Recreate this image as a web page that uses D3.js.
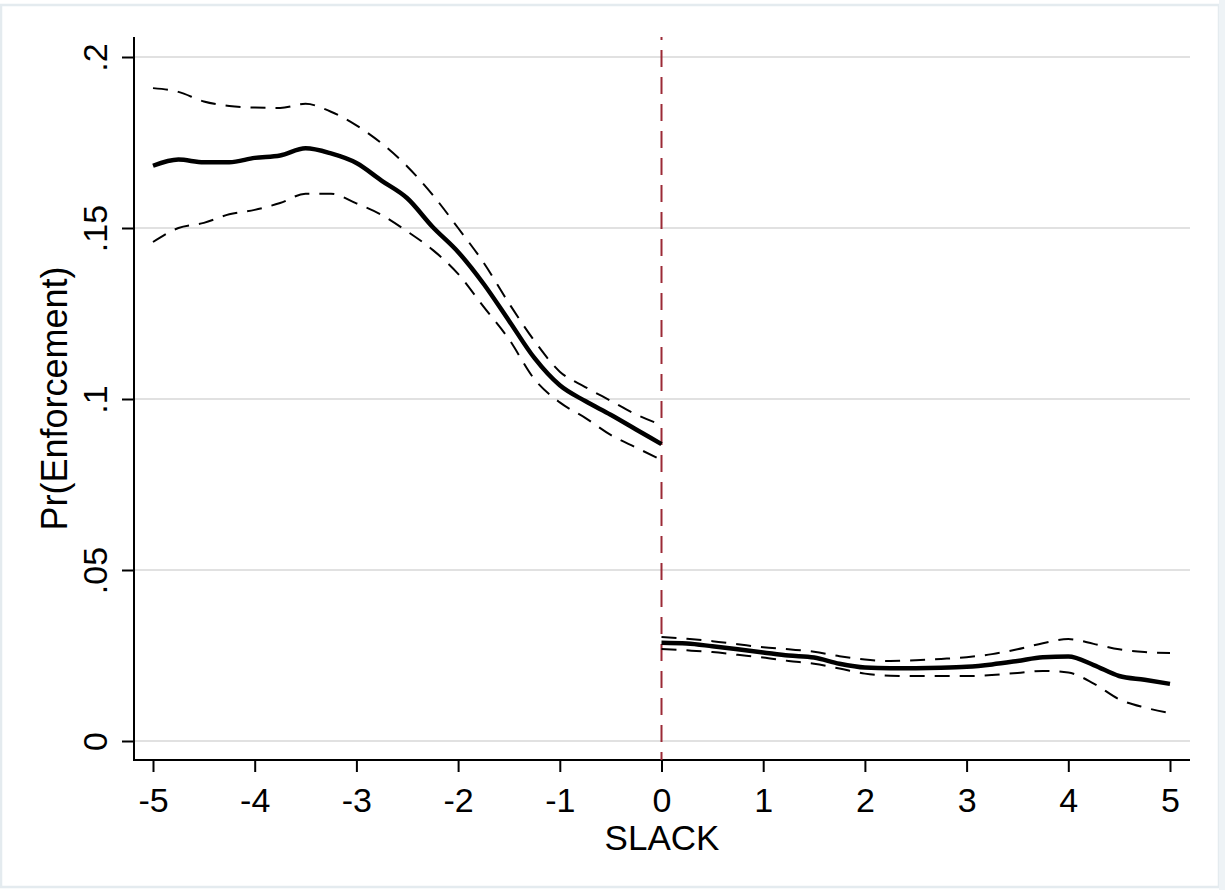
<!DOCTYPE html>
<html>
<head>
<meta charset="utf-8">
<script src="https://cdn.jsdelivr.net/npm/d3@7"></script>
<style>
  html, body { margin: 0; padding: 0; background: #fff; }
  svg { display: block; }
  text { font-family: "Liberation Sans", Arial, sans-serif; fill: #000; }
</style>
</head>
<body>
<svg id="chart" width="1225" height="890"></svg>
<script>
// Local-polynomial fit of Pr(Enforcement) on each side of the SLACK cutoff
const leftX = [-5, -4.75, -4.5, -4.25, -4, -3.75, -3.5, -3.25, -3, -2.75, -2.5,
               -2.25, -2, -1.75, -1.5, -1.25, -1, -0.75, -0.5, -0.25, 0];
const leftFit = [0.1682, 0.1700, 0.1692, 0.1692, 0.1705, 0.1712, 0.1733, 0.1718, 0.1690, 0.1638, 0.1587,
                 0.1503, 0.1430, 0.1337, 0.1229, 0.1120, 0.1040, 0.0994, 0.0954, 0.0911, 0.0868];
const leftUpper = [0.1909, 0.1898, 0.1870, 0.1857, 0.1852, 0.1851, 0.1863, 0.1840, 0.1800, 0.1747, 0.1680,
                   0.1597, 0.1500, 0.1399, 0.1280, 0.1170, 0.1080, 0.1035, 0.0995, 0.0955, 0.0924];
const leftLower = [0.1459, 0.1500, 0.1515, 0.1540, 0.1553, 0.1573, 0.1600, 0.1600, 0.1572, 0.1538, 0.1490,
                   0.1436, 0.1366, 0.1270, 0.1175, 0.1058, 0.0990, 0.0945, 0.0895, 0.0858, 0.0822];

const rightX = [0, 0.25, 0.5, 0.75, 1, 1.25, 1.5, 1.75, 2, 2.25, 2.5,
                2.75, 3, 3.25, 3.5, 3.75, 4, 4.25, 4.5, 4.75, 5];
const rightFit = [0.0287, 0.0285, 0.0277, 0.0268, 0.0259, 0.0250, 0.0244, 0.0226, 0.0215, 0.0213, 0.0213,
                  0.0214, 0.0217, 0.0224, 0.0234, 0.0245, 0.0247, 0.0222, 0.0190, 0.0179, 0.0167];
const rightUpper = [0.0304, 0.0299, 0.0292, 0.0283, 0.0274, 0.0268, 0.0261, 0.0248, 0.0238, 0.0234, 0.0236,
                    0.0240, 0.0245, 0.0254, 0.0268, 0.0286, 0.0298, 0.0284, 0.0268, 0.0260, 0.0257];
const rightLower = [0.0269, 0.0265, 0.0260, 0.0252, 0.0244, 0.0234, 0.0226, 0.0212, 0.0197, 0.0191, 0.0190,
                    0.0190, 0.0190, 0.0193, 0.0199, 0.0205, 0.0200, 0.0168, 0.0122, 0.0098, 0.0082];

const xTicks = [-5, -4, -3, -2, -1, 0, 1, 2, 3, 4, 5];
const xTickLabels = ["-5", "-4", "-3", "-2", "-1", "0", "1", "2", "3", "4", "5"];
const yTicks = [0, 0.05, 0.1, 0.15, 0.2];
const yTickLabels = ["0", ".05", ".1", ".15", ".2"];
const cutoff = 0;
const xTitle = "SLACK";
const yTitle = "Pr(Enforcement)";

const svg = d3.select("#chart");
const W = 1225, H = 890;
const frame = { left: 134, right: 1190, top: 37, bottom: 760 };

const x = d3.scaleLinear().domain([-5, 5]).range([153, 1170]);
const y = d3.scaleLinear().domain([0, 0.2]).range([741, 57]);

// light outer border of the graph region
svg.append("rect")
  .attr("x", 1).attr("y", 5).attr("width", 1218).attr("height", 882)
  .attr("fill", "#fff").attr("stroke", "#e4ebef").attr("stroke-width", 2.5);
svg.append("rect")
  .attr("x", 1219).attr("y", 0).attr("width", 6).attr("height", H)
  .attr("fill", "#eef3f6");

// horizontal gridlines
svg.append("g").selectAll("line").data(yTicks).join("line")
  .attr("x1", frame.left).attr("x2", frame.right)
  .attr("y1", d => y(d)).attr("y2", d => y(d))
  .attr("stroke", "#e1e1e1").attr("stroke-width", 2);

// x axis
const xAxis = d3.axisBottom(x).tickValues(xTicks).tickSize(12)
  .tickFormat((d, i) => xTickLabels[i]);
const gx = svg.append("g").attr("transform", `translate(0,${frame.bottom})`).call(xAxis);
gx.select(".domain").remove();
gx.selectAll(".tick line").attr("stroke", "#000").attr("stroke-width", 2);
gx.selectAll(".tick text")
  .attr("font-size", 34).attr("font-family", "Liberation Sans, Arial, sans-serif")
  .attr("fill", "#000").attr("dy", null).attr("y", 52);
svg.append("line")
  .attr("x1", frame.left - 1).attr("x2", frame.right)
  .attr("y1", frame.bottom).attr("y2", frame.bottom)
  .attr("stroke", "#000").attr("stroke-width", 2);

// y axis
const yAxis = d3.axisLeft(y).tickValues(yTicks).tickSize(12)
  .tickFormat((d, i) => yTickLabels[i]);
const gy = svg.append("g").attr("transform", `translate(${frame.left},0)`).call(yAxis);
gy.select(".domain").remove();
gy.selectAll(".tick line").attr("stroke", "#000").attr("stroke-width", 2);
gy.selectAll(".tick text")
  .attr("font-size", 34).attr("font-family", "Liberation Sans, Arial, sans-serif")
  .attr("fill", "#000")
  .attr("x", null).attr("dy", null)
  .attr("text-anchor", "middle")
  .attr("transform", "translate(-27,0) rotate(-90)");
svg.append("line")
  .attr("x1", frame.left).attr("x2", frame.left)
  .attr("y1", frame.top).attr("y2", frame.bottom + 1)
  .attr("stroke", "#000").attr("stroke-width", 2);

// axis titles
svg.append("text")
  .attr("x", (frame.left + frame.right) / 2).attr("y", 850)
  .attr("text-anchor", "middle").attr("font-size", 35)
  .text(xTitle);
svg.append("text")
  .attr("transform", `translate(67,${(frame.top + frame.bottom) / 2}) rotate(-90)`)
  .attr("text-anchor", "middle").attr("font-size", 36)
  .text(yTitle);

// cutoff marker
svg.append("line")
  .attr("x1", x(cutoff)).attr("x2", x(cutoff))
  .attr("y1", frame.top).attr("y2", frame.bottom)
  .attr("stroke", "#9b2a36").attr("stroke-width", 2)
  .attr("stroke-dasharray", "17 10").attr("stroke-dashoffset", 14);

// fitted lines and confidence bands
const line = d3.line().x(d => x(d[0])).y(d => y(d[1])).curve(d3.curveMonotoneX);
const zip = (xs, vs) => xs.map((v, i) => [v, vs[i]]);

const series = [
  { xs: leftX, vs: leftUpper, dashed: true },
  { xs: leftX, vs: leftLower, dashed: true },
  { xs: leftX, vs: leftFit, dashed: false },
  { xs: rightX, vs: rightUpper, dashed: true },
  { xs: rightX, vs: rightLower, dashed: true },
  { xs: rightX, vs: rightFit, dashed: false }
];

svg.append("g").selectAll("path").data(series).join("path")
  .attr("d", s => line(zip(s.xs, s.vs)))
  .attr("fill", "none")
  .attr("stroke", "#000")
  .attr("stroke-width", s => s.dashed ? 2 : 4.5)
  .attr("stroke-dasharray", s => s.dashed ? "15 10" : null)
  .attr("stroke-linejoin", "round");
</script>
</body>
</html>
